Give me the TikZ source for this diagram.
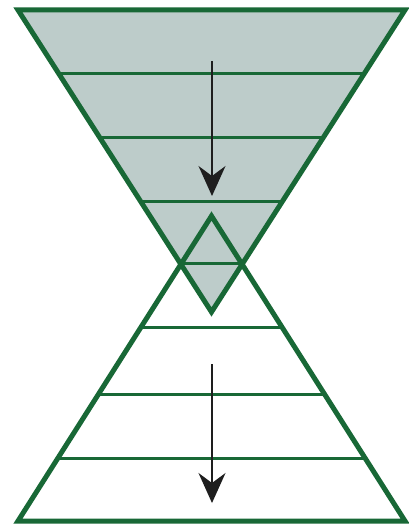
\documentclass[tikz,border=0pt]{standalone}
\usetikzlibrary{arrows.meta}
\definecolor{edgegreen}{RGB}{24,104,54}
\definecolor{fillgray}{RGB}{189,204,202}
\definecolor{arrowgray}{RGB}{30,30,30}
\tikzset{
  outer/.style={draw=edgegreen, line width=5pt, line join=miter},
  band/.style={draw=edgegreen, line width=3pt},
  flow/.style={draw=arrowgray, line width=1.6pt, -{Stealth[length=30pt, width=27pt, inset=10pt]}}
}
\begin{document}
\begin{tikzpicture}[x=1pt, y=-1pt]
\useasboundingbox (0,0) rectangle (409,527);
% inverted triangle
\coordinate (TL) at (18,10);
\coordinate (TR) at (405,10);
\coordinate (TA) at (211.5,312);
% upright triangle
\coordinate (BA) at (211.5,216);
\coordinate (BL) at (18,521);
\coordinate (BR) at (405,521);
\fill[fillgray] (TL) -- (TR) -- (TA) -- cycle;
% bands of the inverted triangle
\foreach \yy in {73,137,201,263}{
  \pgfmathsetmacro{\hw}{(193.5/302)*(312-\yy)}
  \draw[band] ({211.5-\hw},\yy) -- ({211.5+\hw},\yy);
}
% bands of the upright triangle
\foreach \yy in {327,394,458}{
  \pgfmathsetmacro{\hw}{(193.5/305)*(\yy-216)}
  \draw[band] ({211.5-\hw},\yy) -- ({211.5+\hw},\yy);
}
\draw[outer] (TL) -- (TR) -- (TA) -- cycle;
\draw[outer] (BA) -- (BR) -- (BL) -- cycle;
% arrows
\coordinate (a1) at (212,61);
\coordinate (a2) at (212,196);
\coordinate (b1) at (212,364);
\coordinate (b2) at (212,503);
\draw[flow] (a1) -- (a2);
\draw[flow] (b1) -- (b2);
\end{tikzpicture}
\end{document}
